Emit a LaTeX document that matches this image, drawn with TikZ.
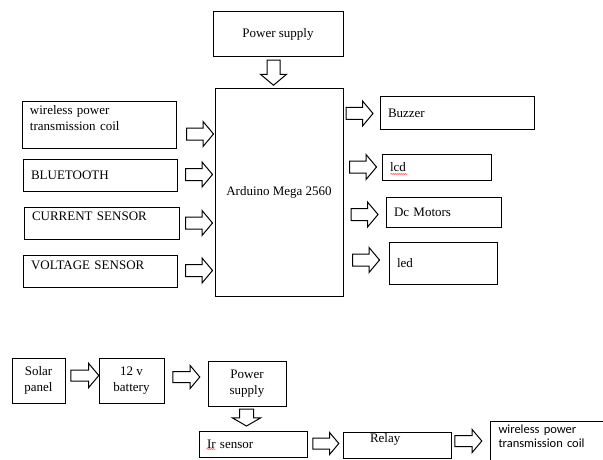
\documentclass[tikz,border=0pt]{standalone}
\usepackage{fontspec}
\setmainfont{Liberation Serif}
\newfontfamily\coilfont{Carlito}
\usetikzlibrary{shapes.arrows,decorations.pathmorphing}

% extra depth below the last line, lifts the text inside a box
\newcommand{\padbelow}[1]{\rule[-#1]{0pt}{#1}}

\tikzset{
  blk/.style={draw, line width=1pt, rectangle, inner sep=0pt, align=center,
    font=\fontsize{13pt}{15.5pt}\selectfont, text=black},
  lblk/.style={blk, align=left, inner xsep=8pt},
  flow/.style={draw, line width=1pt, single arrow, inner xsep=0pt, inner ysep=5.5pt,
    minimum height=27pt, minimum width=24pt,
    single arrow head extend=6.5pt, single arrow tip angle=100},
  flowdown/.style={flow, shape border rotate=270, inner ysep=0pt},
  squiggle/.style={red, line width=0.4pt, decorate,
    decoration={snake, amplitude=0.5pt, segment length=2pt}}
}

\begin{document}
\begin{tikzpicture}[x=1pt, y=-1pt]
  \useasboundingbox (0,0) rectangle (603,460);
  \clip (0,0) rectangle (603,460);

  % controller and its inputs / outputs
  \node[blk, minimum width=130pt, minimum height=45pt] (psup) at (278,34.5) {Power supply};
  \node[blk, minimum width=128pt, minimum height=207pt] (mega) at (279,192.5) {Arduino Mega 2560};

  \node[lblk, minimum width=154pt, minimum height=46pt, text width=138pt] (coil) at (99,125)
    {wireless power\\transmission coil\padbelow{14pt}};
  \node[lblk, minimum width=154pt, minimum height=32pt, text width=138pt] (bt) at (100,175) {BLUETOOTH};
  \node[lblk, minimum width=155pt, minimum height=32pt, text width=139pt] (cur) at (101.5,223)
    {CURRENT SENSOR\padbelow{14pt}};
  \node[lblk, minimum width=154pt, minimum height=32pt, text width=138pt] (volt) at (100,271)
    {VOLTAGE SENSOR\padbelow{12pt}};

  \node[lblk, minimum width=154pt, minimum height=32pt, text width=138pt] (buzz) at (457,113) {Buzzer};
  \node[lblk, minimum width=109pt, minimum height=26pt, text width=93pt] (lcd) at (436.5,167) {lcd};
  \node[lblk, minimum width=115pt, minimum height=30pt, text width=99pt] (dc) at (443.5,212) {Dc Motors};
  \node[lblk, minimum width=108pt, minimum height=42pt, text width=92pt] (led) at (443,263) {led};

  \node[flowdown, minimum height=25pt, minimum width=25pt, inner xsep=6pt] (f0) at (273.5,70) {};
  \node[flow] (f1) at (197.5,134) {};
  \node[flow] (f2) at (196.5,174.5) {};
  \node[flow] (f3) at (196.5,223) {};
  \node[flow] (f4) at (196.5,270.5) {};
  \node[flow] (f5) at (357,113.5) {};
  \node[flow] (f6) at (360.5,167) {};
  \node[flow] (f7) at (362,214.5) {};
  \node[flow] (f8) at (363.5,260) {};

  % charging chain
  \node[blk, minimum width=53pt, minimum height=45pt] (solar) at (38.5,380.5) {Solar\\panel};
  \node[blk, minimum width=65pt, minimum height=45pt] (batt) at (131.5,380.5) {12 v\\battery};
  \node[blk, minimum width=78pt, minimum height=45pt] (psdown) at (247,383.5) {Power\\supply};
  \node[lblk, minimum width=108pt, minimum height=26pt, text width=92pt] (ir) at (253,444) {Ir sensor};
  \node[lblk, minimum width=108pt, minimum height=26pt, text width=92pt] (relay) at (397,445)
    {\hspace*{19pt}Relay\padbelow{15pt}};
  \node[lblk, anchor=north west, minimum width=130pt, text width=114pt, inner xsep=8pt, inner ysep=3pt,
    font=\coilfont\fontsize{12.5pt}{14pt}\selectfont] (coiltx) at (490,421)
    {wireless power\\transmission coil\padbelow{22pt}};

  \node[flow, minimum height=28pt, minimum width=23pt, inner ysep=5pt,
    single arrow head extend=6.5pt] (g1) at (82.5,375.5) {};
  \node[flow, minimum height=27pt, minimum width=22pt, inner ysep=5pt,
    single arrow head extend=6pt] (g2) at (184,377) {};
  \node[flowdown, minimum height=17pt, minimum width=27pt, inner xsep=6.5pt,
    single arrow head extend=7pt, single arrow tip angle=120] (g3) at (246.5,415.5) {};
  \node[flow, minimum height=26pt, minimum width=21pt, inner ysep=5pt,
    single arrow head extend=5.5pt] (g4) at (323.5,443.5) {};
  \node[flow, minimum height=27pt, minimum width=22pt, inner ysep=5pt,
    single arrow head extend=6pt] (g5) at (466,441) {};

  % spelling marks
  \draw[squiggle] ([xshift=9pt,yshift=-7pt]lcd.west) -- ++(17,0);
  \draw[squiggle] ([xshift=8pt,yshift=-5pt]ir.west) -- ++(9,0);
\end{tikzpicture}
\end{document}
